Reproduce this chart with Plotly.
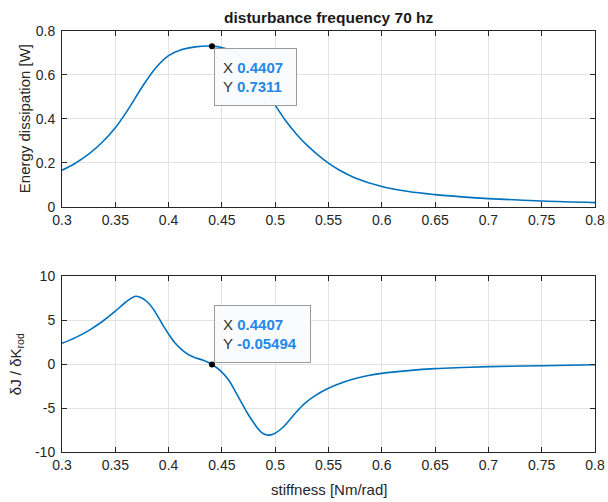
import plotly.graph_objects as go

# ---- data ----
k_top = [0.30, 0.3125, 0.325, 0.3375, 0.35, 0.3625, 0.375, 0.3875, 0.40, 0.4125, 0.425,
         0.4407, 0.45, 0.46, 0.47, 0.48, 0.49, 0.50, 0.51, 0.52, 0.53, 0.54, 0.55, 0.56,
         0.575, 0.60, 0.625, 0.65, 0.675, 0.70, 0.75, 0.80]
energy = [0.167, 0.199, 0.240, 0.293, 0.360, 0.447, 0.544, 0.630, 0.688, 0.716, 0.728,
          0.7311, 0.725, 0.709, 0.676, 0.618, 0.542, 0.463, 0.391, 0.331, 0.280, 0.237, 0.199, 0.168,
          0.132, 0.093, 0.070, 0.056, 0.046, 0.038, 0.027, 0.020]

k_bot = [0.30, 0.3125, 0.325, 0.3375, 0.35, 0.36, 0.369, 0.375, 0.3813, 0.3875, 0.3938, 0.40,
         0.4063, 0.4125, 0.4188, 0.425, 0.4325, 0.4407, 0.448, 0.4563, 0.4625, 0.4688,
         0.475, 0.4813, 0.4865, 0.4922, 0.4985, 0.5063, 0.5125, 0.5188, 0.5275, 0.5375,
         0.5475, 0.5575, 0.5734, 0.5875, 0.60, 0.625, 0.65, 0.675, 0.70, 0.75, 0.80]
gradient = [2.35, 3.0, 3.8, 4.8, 6.0, 7.05, 7.7, 7.5, 6.9, 5.9, 4.6, 3.4,
            2.35, 1.6, 1.05, 0.72, 0.42, -0.05494, -0.7, -1.82, -3.1, -4.47,
            -5.8, -6.93, -7.7, -8.07, -7.95, -7.3, -6.5, -5.6, -4.5, -3.6,
            -2.9, -2.35, -1.7, -1.3, -1.06, -0.75, -0.53, -0.4, -0.3, -0.19, -0.08]

tip_x = 0.4407
tip_y_top = 0.7311
tip_y_bot = -0.05494

x_ticks = [0.3, 0.35, 0.4, 0.45, 0.5, 0.55, 0.6, 0.65, 0.7, 0.75, 0.8]
x_tick_labels = ["0.3", "0.35", "0.4", "0.45", "0.5", "0.55", "0.6", "0.65", "0.7", "0.75", "0.8"]
y_top_ticks = [0, 0.2, 0.4, 0.6, 0.8]
y_top_labels = ["0", "0.2", "0.4", "0.6", "0.8"]
y_bot_ticks = [-10, -5, 0, 5, 10]
y_bot_labels = ["-10", "-5", "0", "5", "10"]

LINE = "#0072BD"
AX = "#262626"
GRID = "#e3e3e3"
FONT = "Liberation Sans, Arial, Helvetica, sans-serif"
BLUE = "#2488e8"

fig = go.Figure()
fig.add_trace(go.Scatter(x=k_top, y=energy, mode="lines", line=dict(color=LINE, width=1.6, shape="spline", smoothing=1.0),
                         xaxis="x", yaxis="y", showlegend=False, hoverinfo="skip"))
fig.add_trace(go.Scatter(x=k_bot, y=gradient, mode="lines", line=dict(color=LINE, width=1.6, shape="spline", smoothing=1.0),
                         xaxis="x2", yaxis="y2", showlegend=False, hoverinfo="skip"))
fig.add_trace(go.Scatter(x=[tip_x], y=[tip_y_top], mode="markers", marker=dict(color="black", size=6),
                         xaxis="x", yaxis="y", showlegend=False))
fig.add_trace(go.Scatter(x=[tip_x], y=[tip_y_bot], mode="markers", marker=dict(color="black", size=6),
                         xaxis="x2", yaxis="y2", showlegend=False))

axis_common = dict(showgrid=True, gridcolor=GRID, gridwidth=1, zeroline=False,
                   showline=True, linecolor=AX, linewidth=1, mirror="ticks",
                   ticks="inside", ticklen=5, tickcolor=AX, tickwidth=1,
                   tickfont=dict(family=FONT, size=14, color=AX))

fig.update_layout(
    width=608, height=502,
    margin=dict(l=62, r=13, t=31, b=50, autoexpand=False),
    paper_bgcolor="white", plot_bgcolor="white",
    font=dict(family=FONT, color=AX),
    xaxis=dict(domain=[0, 1], anchor="y", range=[0.3, 0.8], tickvals=x_ticks, ticktext=x_tick_labels, **axis_common),
    yaxis=dict(domain=[0.582, 1], anchor="x", range=[0, 0.8], tickvals=y_top_ticks, ticktext=y_top_labels,
               ticklabelstandoff=3, **axis_common),
    xaxis2=dict(domain=[0, 1], anchor="y2", range=[0.3, 0.8], tickvals=x_ticks, ticktext=x_tick_labels, **axis_common),
    yaxis2=dict(domain=[0, 0.418], anchor="x2", range=[-10, 10], tickvals=y_bot_ticks, ticktext=y_bot_labels,
                ticklabelstandoff=3, **axis_common),
)

ann = []
ann.append(dict(text="<b>disturbance frequency 70 hz</b>", xref="paper", yref="paper", x=0.5, y=1.031,
                xanchor="center", yanchor="middle", showarrow=False, font=dict(family=FONT, size=15.5, color="#1a1a1a")))
ann.append(dict(text="Energy dissipation [W]", xref="paper", yref="paper", x=-0.069, y=0.791, textangle=-90,
                xanchor="center", yanchor="middle", showarrow=False, font=dict(family=FONT, size=15, color=AX)))
ann.append(dict(text="δJ / δK<sub>rod</sub>", xref="paper", yref="paper", x=-0.086, y=0.209, textangle=-90,
                xanchor="center", yanchor="middle", showarrow=False, font=dict(family=FONT, size=15, color=AX)))
ann.append(dict(text="stiffness [Nm/rad]", xref="paper", yref="paper", x=0.5, y=-0.090,
                xanchor="center", yanchor="middle", showarrow=False, font=dict(family=FONT, size=15, color=AX)))

tip_style = dict(showarrow=False, align="left", bgcolor="rgba(250,251,253,0.97)", bordercolor="#9a9a9a",
                 borderwidth=1, borderpad=8, font=dict(family=FONT, size=15, color="#333333"))
ann.append(dict(text=f"X <span style='color:{BLUE}'><b>{tip_x}</b></span><br>Y <span style='color:{BLUE}'><b>{tip_y_top}</b></span>",
                xref="x", yref="y", x=tip_x, y=tip_y_top, xanchor="left", yanchor="top", xshift=2, yshift=-2,
                width=65, height=40, **tip_style))
ann.append(dict(text=f"X <span style='color:{BLUE}'><b>{tip_x}</b></span><br>Y <span style='color:{BLUE}'><b>{tip_y_bot}</b></span>",
                xref="x2", yref="y2", x=tip_x, y=tip_y_bot, xanchor="left", yanchor="bottom", xshift=2, yshift=1,
                width=79, height=40, **tip_style))
fig.update_layout(annotations=ann)

fig.write_html("out.html")
